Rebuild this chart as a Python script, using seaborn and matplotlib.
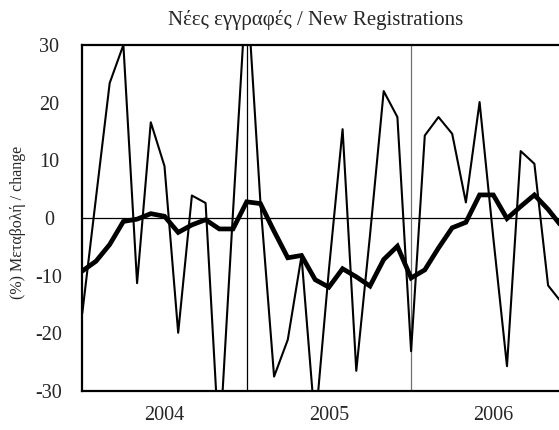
import matplotlib
matplotlib.use("Agg")
import matplotlib.pyplot as plt
import numpy as np
import pandas as pd
import seaborn as sns

# Monthly series, January 2004 - December 2006
months = [f"{y}-{m:02d}" for y in (2004, 2005, 2006) for m in range(1, 13)]

# Year-on-year % change of new registrations (monthly)
monthly_change = [
    -16.5, 3.5, 23.4, 30.0, -11.3, 16.6, 9.0, -19.9, 3.9, 2.6, -40.0, 1.0,
    41.0, 2.8, -27.5, -21.1, -6.6, -36.0, -9.0, 15.4, -26.5, -3.0, 22.0, 17.5,
    -23.1, 14.3, 17.5, 14.6, 2.7, 20.1, -3.4, -25.7, 11.6, 9.4, -11.7, -14.7,
]

# Smoothed (moving average) % change
smoothed_change = [
    -9.2, -7.5, -4.6, -0.6, -0.2, 0.75, 0.3, -2.5, -1.2, -0.3, -1.9, -1.9,
    2.8, 2.5, -2.3, -6.9, -6.5, -10.7, -12.0, -8.8, -10.2, -11.8, -7.2, -4.9,
    -10.4, -9.0, -5.2, -1.7, -0.75, 4.0, 4.0, -0.1, 2.0, 4.0, 1.5, -1.5,
]

y_ticks = [-30, -20, -10, 0, 10, 20, 30]

title = "Νέες εγγραφές / New Registrations"
y_label = "(%) Μεταβολή / change"

sns.set_style("white")
plt.rcParams["font.family"] = ["Liberation Serif", "DejaVu Serif"]
plt.rcParams["axes.unicode_minus"] = False

df = pd.DataFrame({
    "month": months,
    "pos": np.arange(len(months)),
    "monthly": monthly_change,
    "smoothed": smoothed_change,
})
df["year"] = df["month"].str[:4]

fig = plt.figure(figsize=(5.59, 4.30), dpi=100)
ax = fig.add_axes([0.1472, 0.0907, 0.8823, 0.8047])

sns.lineplot(data=df, x="pos", y="monthly", color="black", linewidth=1.5,
             ax=ax, zorder=3)
sns.lineplot(data=df, x="pos", y="smoothed", color="black", linewidth=3.4,
             ax=ax, zorder=4, solid_joinstyle="miter")

ax.set_xlim(0, len(months))
ax.set_ylim(y_ticks[0], y_ticks[-1])

# Zero reference and year separators
ax.axhline(0, color="black", linewidth=0.9, zorder=2)
year_starts = df.groupby("year")["pos"].min().values
for i, start in enumerate(year_starts[1:]):
    ax.axvline(start, color="black" if i == 0 else "#707070",
               linewidth=0.9, zorder=2)

# Year labels centred on each year
year_centres = year_starts + 6
ax.set_xticks(year_centres)
ax.set_xticklabels(df["year"].unique(), fontsize=14.5)
ax.tick_params(axis="x", length=0, pad=11)

ax.set_yticks(y_ticks)
ax.set_yticklabels([str(t) for t in y_ticks], fontsize=14.5)
ax.tick_params(axis="y", direction="in", length=4.5, width=1, pad=24,
               color="black")
for lab in ax.get_yticklabels():
    lab.set_horizontalalignment("center")

ax.set_xlabel("")
ax.set_ylabel("")
for side in ("left", "bottom", "top", "right"):
    ax.spines[side].set_color("black")
    ax.spines[side].set_linewidth(1.6)

fig.text(316 / 559, 1 - 20 / 430, title, ha="center", va="center",
         fontsize=15)
fig.text(18 / 559, 1 - 222 / 430, y_label, ha="center", va="center",
         rotation=90, fontsize=11.5)

fig.savefig("out.png", dpi=100)
